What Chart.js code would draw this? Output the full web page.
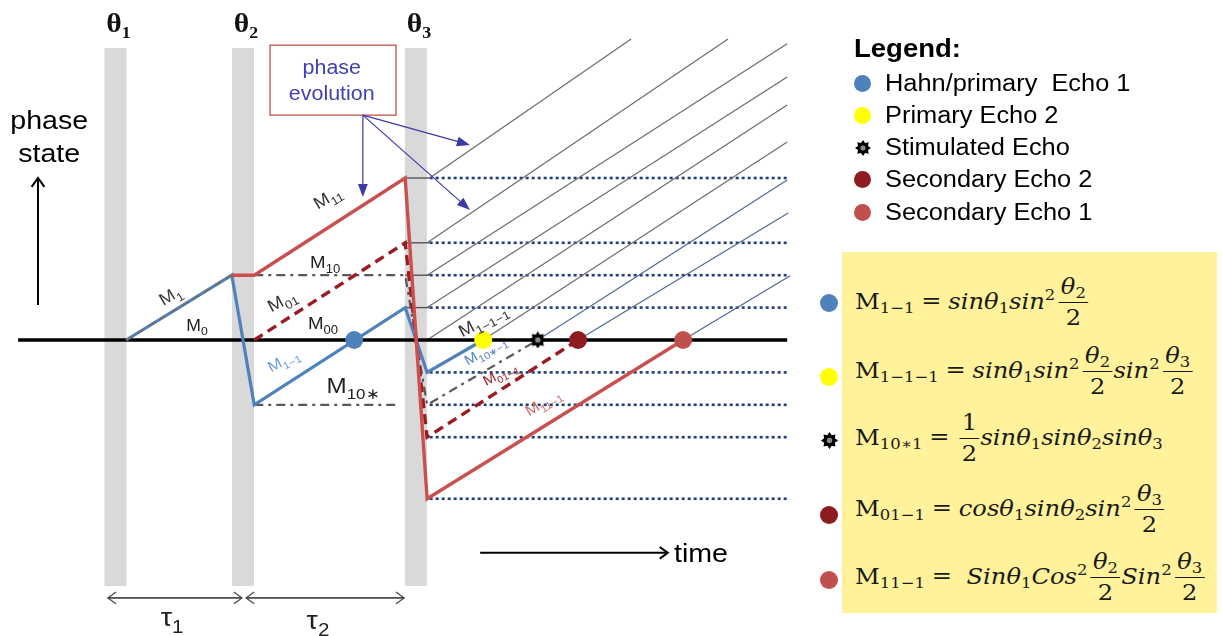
<!DOCTYPE html>
<html>
<head>
<meta charset="utf-8">
<script src="https://cdn.jsdelivr.net/npm/chart.js@4.4.1/dist/chart.umd.min.js"></script>
<style>
body { margin: 0; background: #fff; }
#wrap { position: relative; width: 1222px; height: 636px; overflow: hidden; }
#chart { position: absolute; left: 0; top: 0; }
#legend { position: absolute; left: 854px; top: 32px; font-family: "Liberation Sans", Arial, sans-serif; color: #000; }
.lgt { height: 32px; line-height: 32px; font-weight: bold; font-size: 25px; margin-bottom: 3px; transform: scaleX(1.1); transform-origin: left center; }
.lgi { height: 32.25px; display: flex; align-items: center; }
.mk { width: 17px; height: 17px; border-radius: 50%; flex: none; display: flex; align-items: center; justify-content: center; }
.lgx { margin-left: 14px; font-size: 23.5px; transform: scaleX(1.08); transform-origin: left center; white-space: pre; }
#box { position: absolute; left: 842px; top: 252px; width: 375px; height: 361px; background: #fff29b; }
.fmk { position: absolute; left: 820px; width: 18px; height: 18px; border-radius: 50%; display: flex; align-items: center; justify-content: center; }
.frow { position: absolute; left: 855px; height: 80px; display: flex; align-items: center; }
.fx { font-family: "DejaVu Serif", serif; font-size: 22px; color: #1a1a1a; white-space: nowrap; transform: scaleX(1.1); transform-origin: left center; }
.fx sub, .fx sup { font-size: 0.68em; line-height: 0; font-style: normal; }
.fx sub { vertical-align: -0.3em; }
.fx sup { vertical-align: 0.55em; }
.fx .eq { margin: 0 0.28em; }
.fr { display: inline-flex; flex-direction: column; vertical-align: middle; text-align: center; margin: 0 1px 0 3px; }
.fr > span { line-height: 24px; padding: 0 2px; }
.fr > span:first-child { border-bottom: 1.5px solid #1a1a1a; padding-bottom: 3px; }
.fr > span:last-child { padding-top: 3px; }
</style>
</head>
<body>
<div id="wrap">
  <canvas id="chart" width="1222" height="636"></canvas>
  <div id="legend"></div>
  <div id="box"></div>
  <div id="formulas"></div>
</div>
<script>
// time runs in units where free precession moves the phase by one step per unit
const pulseTimes = [0, 2.5, 5.89];
const pulseNames = ['1', '2', '3'];
const pulseSpan = [-7.59, 9.01];
const baselineSpan = [-1.91, 13.17];

const pathM1 = [[0.21, 0], [2.28, 2]];
const pathBlue = [[0.21, 0], [2.28, 2], [2.72, -2], [5.68, 1], [6.11, -1], [7.21, 0]];
const pathRed = [[2.28, 2], [2.72, 2], [5.68, 5], [6.11, -4.9], [11.13, 0]];
const pathDarkRed = [[2.72, 0], [5.68, 3], [6.11, -3], [9.07, 0]];
const pathM10 = [[2.72, 2], [5.68, 2], [6.11, -2], [8.28, 0]];
const pathM10star = [[2.72, -2], [5.58, -2]];

const tickLevels = [5, 3, 2, 1];
const tickSpan = [5.68, 6.16];
const dottedLevels = [5, 3, 2, 1, -1, -2, -3, -4.9];
const dottedSpan = [6.16, 13.17];

const evoGray = [
	[[6.16, 5], [10.11, 9.29]],
	[[6.11, 3], [12.01, 9.29]],
	[[6.11, 2], [13.17, 9.14]],
	[[6.11, 1], [13.17, 8.12]],
	[[6.11, 0], [13.17, 7.25]],
	[[7.21, 0], [13.17, 6.11]],
];
const evoBlue = [
	[[8.28, 0], [13.17, 4.94]],
	[[9.07, 0], [13.19, 3.92]],
	[[11.13, 0], [13.23, 1.98]],
];

const echoTimes = [4.68, 7.21, 8.28, 9.07, 11.13];
const echoNames = ['Hahn/primary  Echo 1', 'Primary Echo 2', 'Stimulated Echo', 'Secondary Echo 2', 'Secondary Echo 1'];
const echoColors = ['#4f81bd', '#ffff00', 'gear', '#8e1b1f', '#c0504d'];

const frac = (a, b) => '<span class="fr"><span>' + a + '</span><span>' + b + '</span></span>';
const th = n => '<i>θ</i><sub>' + n + '</sub>';
const eq = '<span class="eq">=</span>';
const formulas = [
	'M<sub>1−1</sub>' + eq + '<i>sin</i>' + th(1) + '<i>sin</i><sup>2</sup>' + frac(th(2), '2'),
	'M<sub>1−1−1</sub>' + eq + '<i>sin</i>' + th(1) + '<i>sin</i><sup>2</sup>' + frac(th(2), '2') + '<i>sin</i><sup>2</sup>' + frac(th(3), '2'),
	'M<sub>10∗1</sub>' + eq + frac('1', '2') + '<i>sin</i>' + th(1) + '<i>sin</i>' + th(2) + '<i>sin</i>' + th(3),
	'M<sub>01−1</sub>' + eq + '<i>cos</i>' + th(1) + '<i>sin</i>' + th(2) + '<i>sin</i><sup>2</sup>' + frac(th(3), '2'),
	'M<sub>11−1</sub>' + eq + '&nbsp;<i>Sin</i>' + th(1) + '<i>Cos</i><sup>2</sup>' + frac(th(2), '2') + '<i>Sin</i><sup>2</sup>' + frac(th(3), '2'),
];
const formulaY = [302, 371, 438, 509, 577];
const markerY = [303, 377, 440, 515, 580];

const SX = 1.1;
const FONT_SANS = '"Liberation Sans", Arial, sans-serif';
const FONT_SERIF = '"Liberation Serif", "Times New Roman", serif';

function makeGear(d) {
	const c = document.createElement('canvas');
	c.width = d;
	c.height = d;
	const g = c.getContext('2d');
	const r = d / 2;
	g.translate(r, r);
	g.beginPath();
	for (let i = 0; i < 16; i++) {
		const a = i * Math.PI / 8;
		const rr = i % 2 ? r * 0.68 : r;
		g.lineTo(rr * Math.cos(a), rr * Math.sin(a));
	}
	g.closePath();
	g.fillStyle = '#000';
	g.fill();
	g.beginPath();
	g.arc(0, 0, r * 0.32, 0, 2 * Math.PI);
	g.fillStyle = '#8a8a8a';
	g.fill();
	return c;
}

function richText(ctx, x, y, parts, size, color, o) {
	o = o || {};
	const fam = o.family || FONT_SANS;
	const w8 = o.bold ? 'bold ' : '';
	const subSize = size * (o.subScale || 0.7);
	ctx.save();
	ctx.translate(x, y);
	if (o.angle) ctx.rotate(o.angle * Math.PI / 180);
	ctx.scale(SX, 1);
	ctx.fillStyle = color;
	ctx.textBaseline = 'alphabetic';
	ctx.textAlign = 'left';
	const ws = [];
	let w = 0;
	parts.forEach(([s, k]) => {
		ctx.font = w8 + (k ? subSize : size) + 'px ' + fam;
		const m = ctx.measureText(s).width;
		ws.push(m);
		w += m;
	});
	let cx = o.align === 'left' ? 0 : -w / 2;
	const base = size * 0.35;
	parts.forEach(([s, k], i) => {
		ctx.font = w8 + (k ? subSize : size) + 'px ' + fam;
		ctx.fillText(s, cx, base + (k ? size * (o.subDrop || 0.3) : 0));
		cx += ws[i];
	});
	ctx.restore();
}

function arrow(ctx, x1, y1, x2, y2, color, width, head, filled) {
	const a = Math.atan2(y2 - y1, x2 - x1);
	const sp = filled ? 0.36 : 0.62;
	ctx.save();
	ctx.strokeStyle = color;
	ctx.fillStyle = color;
	ctx.lineWidth = width;
	ctx.beginPath();
	ctx.moveTo(x1, y1);
	ctx.lineTo(filled ? x2 - head * 0.8 * Math.cos(a) : x2, filled ? y2 - head * 0.8 * Math.sin(a) : y2);
	ctx.stroke();
	const p1 = [x2 - head * Math.cos(a - sp), y2 - head * Math.sin(a - sp)];
	const p2 = [x2 - head * Math.cos(a + sp), y2 - head * Math.sin(a + sp)];
	ctx.beginPath();
	if (filled) {
		ctx.moveTo(x2, y2);
		ctx.lineTo(p1[0], p1[1]);
		ctx.lineTo(p2[0], p2[1]);
		ctx.closePath();
		ctx.fill();
	} else {
		ctx.moveTo(p1[0], p1[1]);
		ctx.lineTo(x2, y2);
		ctx.lineTo(p2[0], p2[1]);
		ctx.stroke();
	}
	ctx.restore();
}

const diagramText = {
	id: 'diagramText',
	afterDatasetsDraw(chart) {
		const ctx = chart.ctx;
		const X = v => chart.scales.x.getPixelForValue(v);
		const Y = v => chart.scales.y.getPixelForValue(v);

		// pulse names
		pulseTimes.forEach((t, i) => {
			richText(ctx, X(t) + 3, Y(9.79), [['θ', 0], [pulseNames[i], 1]], 27, '#111', {family: FONT_SERIF, bold: true, subScale: 0.6, subDrop: 0.22});
		});

		// phase state
		richText(ctx, X(-1.30), Y(6.79), [['phase', 0]], 26, '#000');
		richText(ctx, X(-1.30), Y(5.77), [['state', 0]], 26, '#000');
		arrow(ctx, X(-1.52), Y(1.08), X(-1.52), Y(5.0), '#000', 2, 11, false);

		// phase evolution box
		ctx.save();
		ctx.strokeStyle = '#c0504d';
		ctx.lineWidth = 1.3;
		ctx.strokeRect(X(3.03), Y(9.1), X(5.5) - X(3.03), Y(6.94) - Y(9.1));
		ctx.restore();
		richText(ctx, X(4.24), Y(8.43), [['phase', 0]], 19.5, '#4040b0');
		richText(ctx, X(4.24), Y(7.62), [['evolution', 0]], 19.5, '#4040b0');
		[[4.85, 4.41], [6.95, 6.02], [6.95, 4.01]].forEach(([t, p]) => {
			arrow(ctx, X(4.85), Y(6.94), X(t), Y(p), '#3a3aa8', 1.2, 14, true);
		});

		// magnetisation path labels
		const dark = '#333';
		richText(ctx, X(1.07), Y(1.39), [['M', 0], ['1', 1]], 17, '#3c3c3c', {angle: -31});
		richText(ctx, X(1.6), Y(0.46), [['M', 0], ['0', 1]], 16, '#222');
		richText(ctx, X(4.15), Y(4.41), [['M', 0], ['11', 1]], 17, dark, {angle: -31});
		richText(ctx, X(4.11), Y(2.41), [['M', 0], ['10', 1]], 17, '#222');
		richText(ctx, X(3.26), Y(1.23), [['M', 0], ['01', 1]], 17, dark, {angle: -28});
		richText(ctx, X(4.07), Y(0.52), [['M', 0], ['00', 1]], 17, '#222');
		richText(ctx, X(3.29), Y(-0.62), [['M', 0], ['1−1', 1]], 15, '#6a9ad6', {angle: -28});
		richText(ctx, X(4.66), Y(-1.39), [['M', 0], ['10∗', 1]], 22, '#222');
		richText(ctx, X(7.2), Y(0.62), [['M', 0], ['1−1−1', 1]], 17, dark, {angle: -28});
		richText(ctx, X(7.25), Y(-0.31), [['M', 0], ['10∗−1', 1]], 14, '#4f81bd', {angle: -30});
		richText(ctx, X(7.54), Y(-1.02), [['M', 0], ['01−1', 1]], 14, '#a02222', {angle: -28});
		richText(ctx, X(8.38), Y(-1.91), [['M', 0], ['11−1', 1]], 15, '#d46a66', {angle: -31});

		// time and pulse spacing
		arrow(ctx, X(7.15), Y(-6.57), X(10.83), Y(-6.57), '#000', 2, 10, false);
		richText(ctx, X(10.95), Y(-6.57), [['time', 0]], 26, '#000', {align: 'left'});
		[[-0.15, 2.48], [2.56, 5.66]].forEach(([a, b]) => {
			arrow(ctx, X(a), Y(-7.96), X(b), Y(-7.96), '#444', 1.2, 10, false);
			arrow(ctx, X(b), Y(-7.96), X(a), Y(-7.96), '#444', 1.2, 10, false);
		});
		richText(ctx, X(1.11), Y(-8.55), [['τ', 0], ['1', 1]], 26, '#222', {subScale: 0.72, subDrop: 0.25});
		richText(ctx, X(3.97), Y(-8.64), [['τ', 0], ['2', 1]], 26, '#222', {subScale: 0.72, subDrop: 0.25});
	}
};

function lineDs(path, color, width, dash, order) {
	return {
		data: path.map(([x, y]) => ({x, y})),
		showLine: true,
		borderColor: color,
		borderWidth: width,
		borderDash: dash || [],
		borderCapStyle: 'butt',
		borderJoinStyle: 'miter',
		pointRadius: 0,
		tension: 0,
		fill: false,
		order: order,
	};
}

const gearPoint = makeGear(17);
const datasets = [];
pulseTimes.forEach(t => datasets.push(lineDs([[t, pulseSpan[0]], [t, pulseSpan[1]]], '#d9d9d9', 22, null, 100)));
dottedLevels.forEach(p => datasets.push(lineDs([[dottedSpan[0], p], [dottedSpan[1], p]], '#1f3f7a', 2.6, [3, 3], 60)));
evoGray.forEach(s => datasets.push(lineDs(s, '#6b6b6b', 1.2, null, 55)));
evoBlue.forEach(s => datasets.push(lineDs(s, '#4d6b92', 1.2, null, 55)));
tickLevels.forEach(p => datasets.push(lineDs([[tickSpan[0], p], [tickSpan[1], p]], '#555', 1.4, null, 50)));
datasets.push(lineDs([[baselineSpan[0], 0], [baselineSpan[1], 0]], '#000', 3.5, null, 40));
datasets.push(lineDs(pathM10, '#595959', 2.2, [9, 5, 3, 5], 30));
datasets.push(lineDs(pathM10star, '#595959', 2.2, [9, 5, 3, 5], 30));
datasets.push(lineDs(pathBlue, '#4f81bd', 3.2, null, 25));
datasets.push(lineDs(pathM1, '#707070', 2, [8, 5], 24));
datasets.push(lineDs(pathDarkRed, '#9b1c20', 3.4, [10, 6], 22));
datasets.push(lineDs(pathRed, '#c9504f', 3.4, null, 20));
echoTimes.forEach((t, i) => {
	const gear = echoColors[i] === 'gear';
	datasets.push({
		data: [{x: t, y: 0}],
		pointRadius: gear ? 8.5 : 9,
		pointStyle: gear ? gearPoint : 'circle',
		pointBackgroundColor: gear ? '#000' : echoColors[i],
		pointBorderWidth: 0,
		order: 1,
	});
});

new Chart(document.getElementById('chart'), {
	type: 'scatter',
	data: {datasets: datasets},
	options: {
		responsive: false,
		animation: false,
		events: [],
		layout: {padding: 0, autoPadding: false},
		scales: {
			x: {type: 'linear', display: false, min: -2.265, max: 21.696},
			y: {type: 'linear', display: false, min: -9.136, max: 10.494},
		},
		plugins: {
			legend: {display: false},
			tooltip: {enabled: false},
		}
	},
	plugins: [diagramText]
});

// legend and formula panel
function marker(el, i, d) {
	if (echoColors[i] === 'gear') {
		el.appendChild(makeGear(d));
	} else {
		el.style.background = echoColors[i];
	}
}

const legend = document.getElementById('legend');
legend.innerHTML = '<div class="lgt">Legend:</div>' + echoNames.map((n, i) =>
	'<div class="lgi"><span class="mk"></span><span class="lgx">' + n + '</span></div>').join('');
legend.querySelectorAll('.mk').forEach((el, i) => marker(el, i, 16));

const fbox = document.getElementById('formulas');
formulas.forEach((f, i) => {
	const mk = document.createElement('div');
	mk.className = 'fmk';
	mk.style.top = (markerY[i] - 9) + 'px';
	marker(mk, i, 17);
	fbox.appendChild(mk);
	const row = document.createElement('div');
	row.className = 'frow';
	row.style.top = (formulaY[i] - 40) + 'px';
	row.innerHTML = '<div class="fx">' + f + '</div>';
	fbox.appendChild(row);
});
</script>
</body>
</html>
